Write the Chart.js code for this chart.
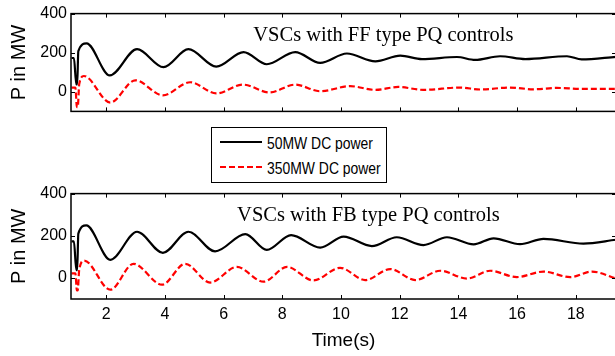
<!DOCTYPE html>
<html>
<head>
<meta charset="utf-8">
<script src="https://cdn.jsdelivr.net/npm/chart.js@4/dist/chart.umd.min.js"></script>
<style>
body{margin:0;width:615px;height:356px;overflow:hidden;background:#fff;position:relative;}
canvas{position:absolute;left:0;}
#c1{top:0px;}
#c2{top:180px;}
#legend{position:absolute;left:211px;top:127px;width:174px;height:54px;border:1px solid #000;background:#fff;font-family:"Liberation Sans",Arial,sans-serif;font-size:16px;color:#000;}
.ln{position:absolute;left:8px;width:42px;height:2px;}
.txt{position:absolute;left:55px;line-height:16px;white-space:nowrap;transform:scaleX(0.87);transform-origin:left center;}
</style>
</head>
<body>
<canvas id="c1" width="620" height="125"></canvas>
<canvas id="c2" width="620" height="176"></canvas>
<div id="legend">
  <div class="ln" style="top:13px;background:#000;"></div>
  <div class="txt" style="top:8px;">50MW DC power</div>
  <div class="ln" style="top:38px;background:repeating-linear-gradient(to right,#ff0000 0 6px,transparent 6px 9px);"></div>
  <div class="txt" style="top:33px;">350MW DC power</div>
</div>
<script>
// ticks
var xTicks = [2,4,6,8,10,12,14,16,18];
var yTicks = [0,200,400];

// FF type PQ controls (top)
var ffBlackT = [0.82,0.90,0.98,1.01,1.05,1.33,2.12,3.05,3.95,4.80,5.75,6.68,7.47,8.44,9.29,10.20,11.17,12.02,12.76,13.95,14.57,15.42,16.28,17.70,18.20,19.37];
var ffBlackP = [173,173,38,38,208,248,84,218,126,218,129,203,141,203,148,196,156,185,167,178,163,182,167,182,166,179];
var ffRedT = [0.82,0.95,1.00,1.03,1.08,1.24,2.14,2.99,3.93,4.86,5.75,6.66,7.56,8.44,9.29,10.31,11.17,11.95,12.80,14.06,14.74,15.76,16.55,17.35,18.20,19.37];
var ffRedP = [22,22,-78,-78,40,81,-55,59,-18,49,-8,37,-3,37,3,29,10,25,10,22,12,22,13,20,15,15];

// FB type PQ controls (bottom)
var fbBlackT = [0.82,0.90,0.98,1.01,1.05,1.32,2.14,3.05,3.93,4.80,5.71,6.74,7.47,8.30,9.29,10.09,11.05,11.90,12.81,13.61,14.52,15.20,16.10,16.90,18.26,19.37];
var fbBlackP = [173,173,37,37,210,249,86,219,119,219,126,208,133,203,144,196,151,193,156,193,159,188,160,185,163,181];
var fbRedT = [0.82,0.95,1.00,1.03,1.08,1.25,2.14,2.93,3.90,4.69,5.54,6.45,7.36,8.16,9.06,9.97,10.82,11.68,12.53,13.38,14.29,15.08,15.99,16.90,17.81,18.55,19.37];
var fbRedP = [22,22,-59,-59,40,82,-56,67,-32,67,-22,52,-18,52,-12,48,-10,42,-10,34,-3,34,4,30,4,30,-3];

function pts(t,p){
  var out = [];
  for(var i=0;i<t.length;i++){ out.push({x:t[i],y:p[i]}); }
  return out;
}

// matlab style box with inward ticks + text label
var boxPlugin = {
  id:'boxPlugin',
  afterDatasetsDraw:function(chart,args,opts){
    var ctx = chart.ctx, a = chart.chartArea;
    var xs = chart.scales.x, ys = chart.scales.y;
    ctx.save();
    ctx.strokeStyle = '#000';
    ctx.lineWidth = 1;
    ctx.beginPath();
    xs.ticks.forEach(function(t){
      var px = Math.round(xs.getPixelForValue(t.value))+0.5;
      ctx.moveTo(px,a.top); ctx.lineTo(px,a.top+4);
      ctx.moveTo(px,a.bottom); ctx.lineTo(px,a.bottom-4);
    });
    ys.ticks.forEach(function(t){
      var py = Math.round(ys.getPixelForValue(t.value))+0.5;
      ctx.moveTo(a.left,py); ctx.lineTo(a.left+4,py);
      ctx.moveTo(a.right,py); ctx.lineTo(a.right-4,py);
    });
    ctx.stroke();
    ctx.lineWidth = 1.5;
    ctx.strokeRect(a.left,a.top,a.right-a.left,a.bottom-a.top);
    ctx.font = '20.5px "Liberation Serif", "Times New Roman", serif';
    ctx.fillStyle = '#000';
    ctx.textAlign = 'left';
    ctx.textBaseline = 'alphabetic';
    ctx.fillText(opts.text, xs.getPixelForValue(opts.x), ys.getPixelForValue(opts.y));
    ctx.restore();
  }
};

function makeChart(id,blackT,blackP,redT,redP,label,lx,ly,bottom){
  return new Chart(id,{
    type:'line',
    data:{datasets:[
      {label:'50MW DC power',data:pts(blackT,blackP),borderColor:'#000',borderWidth:2.2,pointRadius:0,cubicInterpolationMode:'monotone',fill:false},
      {label:'350MW DC power',data:pts(redT,redP),borderColor:'#ff0000',borderWidth:2.2,borderDash:[6,3],pointRadius:0,cubicInterpolationMode:'monotone',fill:false}
    ]},
    options:{
      responsive:false,
      animation:false,
      layout:{padding:{left:0,right:4,top:bottom?7:8,bottom:0}},
      plugins:{legend:{display:false},tooltip:{enabled:false},boxPlugin:{text:label,x:lx,y:ly}},
      scales:{
        x:{type:'linear',min:0.8,max:19.37,
          grid:{display:false,drawTicks:false},border:{display:false},
          afterBuildTicks:function(s){ s.ticks = xTicks.map(function(v){return {value:v};}); },
          afterFit:function(s){ s.height = bottom?57:5; },
          ticks:{display:bottom,padding:6,color:'#000',font:{family:'"Liberation Sans", Arial, sans-serif',size:16}},
          title:{display:bottom,text:'Time(s)',color:'#000',padding:{top:4,bottom:4},font:{family:'"Liberation Sans", Arial, sans-serif',size:19}}
        },
        y:{type:'linear',min:-100,max:400,
          grid:{display:false,drawTicks:false},border:{display:false},
          afterBuildTicks:function(s){ s.ticks = yTicks.map(function(v){return {value:v};}); },
          afterFit:function(s){ s.width = 71; },
          ticks:{padding:4,color:'#000',font:{family:'"Liberation Sans", Arial, sans-serif',size:16}},
          title:{display:true,text:'P in MW',color:'#000',padding:{top:7,bottom:7},font:{family:'"Liberation Sans", Arial, sans-serif',size:20}}
        }
      }
    },
    plugins:[boxPlugin]
  });
}

var top1 = makeChart('c1',ffBlackT,ffBlackP,ffRedT,ffRedP,'VSCs with FF type PQ controls',7.01,262,false);
var bot1 = makeChart('c2',fbBlackT,fbBlackP,fbRedT,fbRedP,'VSCs with FB type PQ controls',6.46,270,true);
</script>
</body>
</html>
